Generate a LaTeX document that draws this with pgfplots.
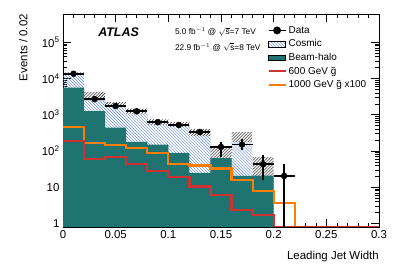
\documentclass[border=0pt]{standalone}
\usepackage{pgfplots}
\pgfplotsset{compat=1.18}
\usepgfplotslibrary{fillbetween}
\usetikzlibrary{patterns}
\usepackage{fontspec}
\setmainfont{Liberation Sans}
\definecolor{halocol}{RGB}{31,115,112}
\definecolor{cosmiccol}{RGB}{95,135,225}
\definecolor{sigred}{RGB}{205,50,50}
\definecolor{sigorange}{RGB}{255,125,0}
\begin{document}
\begin{tikzpicture}
\begin{axis}[
  scale only axis, width=316bp, height=213bp,
  xmin=0, xmax=0.3, ymin=0.8, ymax=6e5,
  ymode=log, log origin=infty,
  axis line style={line width=0.8bp},
  xtick={0,0.05,0.1,0.15,0.2,0.25,0.3},
  xticklabels={0,0.05,0.1,0.15,0.2,0.25,0.3},
  minor x tick num=4,
  ytick={1,10,100,1000,10000,100000},
  yticklabels={1,10,10\textsuperscript{2},10\textsuperscript{3},10\textsuperscript{4},10\textsuperscript{5}},
  tick align=inside, major tick length=8bp, minor tick length=4bp,
  tick style={line width=0.6bp, black},
  tick label style={font=\fontsize{11.5}{13}\selectfont},
  xlabel={Leading Jet Width}, ylabel={Events / 0.02},
  xlabel style={at={(axis description cs:1,-0.112)}, anchor=north east, inner sep=0pt, font=\fontsize{11.5}{13}\selectfont},
  ylabel style={at={(axis description cs:-0.112,1)}, anchor=south east, inner sep=0pt, font=\fontsize{11.5}{13}\selectfont},
  legend style={at={(axis description cs:0.637,0.962)}, anchor=north west, draw=none, fill=none,
    font=\fontsize{10}{11}\selectfont, row sep=1pt},
  legend cell align=left,
]
% legend images
\addlegendimage{black, line width=1.8bp, mark=*, mark size=3bp}
\addlegendentry{Data}
\addlegendimage{area legend, draw=none, pattern=north west lines, pattern color=cosmiccol}
\addlegendentry{Cosmic}
\addlegendimage{area legend, draw=none, fill=halocol}
\addlegendentry{Beam-halo}
\addlegendimage{sigred, line width=2.2bp}
\addlegendentry{600 GeV \~{g}}
\addlegendimage{sigorange, line width=2.2bp}
\addlegendentry{1000 GeV \~{g} x100}

% total background (cosmic + beam halo), hatched
\addplot[forget plot, const plot mark left, draw=none, pattern=north west lines, pattern color=cosmiccol]
  coordinates {(0,13000)(0.02,2500)(0.04,1620)(0.06,1070)(0.08,530)(0.1,460)(0.12,260)(0.14,64)(0.16,177)(0.18,21)(0.2,21)} \closedcycle;
% beam halo
\addplot[forget plot, const plot mark left, draw=none, fill=halocol]
  coordinates {(0,5600)(0.02,1260)(0.04,440)(0.06,177)(0.08,150)(0.1,88)(0.12,25)(0.14,64)(0.16,20.5)(0.18,21)(0.2,21)} \closedcycle;
% 1000 GeV x100
\addplot[forget plot, const plot mark left, sigorange, line width=2.2bp]
  coordinates {(0,460)(0.02,166)(0.04,144)(0.06,123)(0.08,88)(0.1,43)(0.12,40)(0.14,33)(0.16,16)(0.18,7.8)(0.2,3.7)(0.22,0.8)(0.3,0.8)};
% uncertainty band
\addplot[forget plot, const plot mark left, draw=none, name path=bandhi]
  coordinates {(0,14500)(0.02,4300)(0.04,2240)(0.06,1470)(0.08,745)(0.1,625)(0.12,400)(0.14,129)(0.16,333)(0.18,68)(0.2,68)};
\addplot[forget plot, const plot mark left, draw=none, name path=bandlo]
  coordinates {(0,13000)(0.02,2500)(0.04,1620)(0.06,1070)(0.08,530)(0.1,460)(0.12,260)(0.14,32)(0.16,177)(0.18,0.5)(0.2,0.5)};
\addplot[forget plot, pattern=north east lines, pattern color=black] fill between[of=bandhi and bandlo];
% 600 GeV
\addplot[forget plot, const plot mark left, sigred, line width=2.2bp]
  coordinates {(0,189)(0.02,59)(0.04,68)(0.06,43)(0.08,28)(0.1,19)(0.12,10.5)(0.14,6)(0.16,2.4)(0.18,1.7)(0.2,0.8)(0.3,0.8)};
% data
\addplot[forget plot, only marks, black, mark=*, mark size=3bp,
  error bars/.cd, x dir=both, x explicit, y dir=both, y explicit,
  error bar style={line width=1.8bp, black}, error mark=none]
  table[x=x, y=y, x error=ex, y error plus=ep, y error minus=em] {
x     y      ex    ep    em
0.01  13500  0.01  600   600
0.03  2700   0.01  200   200
0.05  1740   0.01  130   130
0.07  1240   0.01  100   100
0.09  620    0.01  60    60
0.11  520    0.01  50    50
0.13  335    0.01  50    50
0.15  129    0.01  48    61
0.17  150    0.01  59    45
0.19  43     0.01  33    27
0.21  20.5   0.01  22.5  20.2
};
\node[anchor=west, inner sep=0pt, font=\bfseries\itshape\fontsize{12.5}{14}\selectfont] at (axis description cs:0.111,0.914) {ATLAS};
\node[anchor=west, inner sep=0pt, font=\fontsize{8.3}{9}\selectfont] at (axis description cs:0.354,0.917) {5.0 fb$^{-1}$ @ $\sqrt{\mathrm{s}}$=7 TeV};
\node[anchor=west, inner sep=0pt, font=\fontsize{8.3}{9}\selectfont] at (axis description cs:0.354,0.844) {22.9 fb$^{-1}$ @ $\sqrt{\mathrm{s}}$=8 TeV};
\coordinate (O) at (rel axis cs:0,0);
\end{axis}
\path[use as bounding box] (O) ++(-63bp,-43bp) rectangle ++(399bp,270bp);
\end{tikzpicture}
\end{document}
